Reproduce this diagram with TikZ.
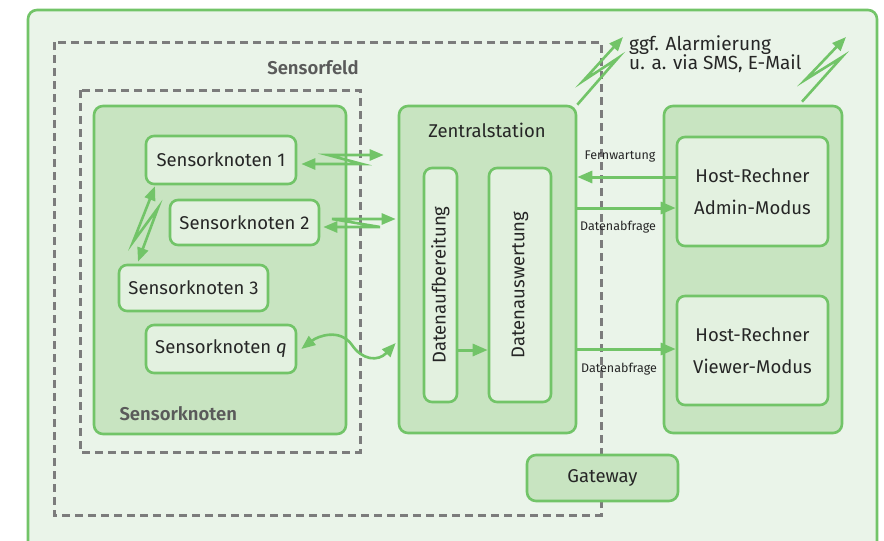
\documentclass[tikz,border=0pt]{standalone}
\usepackage{fontspec}
\setmainfont{Fira Sans}
\newfontfamily\firamed{Fira Sans SemiBold}
\usetikzlibrary{arrows.meta,calc}
\definecolor{gr}{HTML}{72C468}
\definecolor{outerfill}{HTML}{EAF4E9}
\definecolor{midfill}{HTML}{C8E4C1}
\definecolor{nodefill}{HTML}{E3F1E0}
\definecolor{dgray}{HTML}{7C7C7C}
\definecolor{txt}{HTML}{262626}
\definecolor{lgray}{HTML}{5A5A5A}
\begin{document}
\begin{tikzpicture}[x=1pt,y=-1pt,font=\fontsize{18.5}{20}\selectfont,text=txt,
  gline/.style={draw=gr,line width=2.6pt},
  frame/.style={gline,fill=outerfill,rounded corners=9pt},
  group/.style={gline,fill=midfill,rounded corners=9pt,inner sep=0pt},
  nodebox/.style={gline,fill=nodefill,rounded corners=8pt,inner sep=0pt},
  dbox/.style={draw=dgray,line width=3pt,dash pattern=on 8pt off 5pt},
  conn/.style={draw=gr,line width=3pt,-{Triangle[length=15pt,width=12pt]}},
  bolt/.style={draw=gr,line width=2.6pt,line join=miter,{Triangle[length=14pt,width=11pt]}-{Triangle[length=14pt,width=11pt]}},
  bolt1/.style={draw=gr,line width=2.6pt,line join=miter,-{Triangle[length=14pt,width=11pt]}},
  small/.style={font=\fontsize{12.5}{14}\selectfont},
  grplabel/.style={text=lgray,font=\fontsize{18.5}{20}\selectfont\firamed},
  two/.style={align=center,font=\fontsize{18.5}{32}\selectfont}]
\useasboundingbox (0,0) rectangle (884,541);
\fill[white] (0,0) rectangle (884,541);
% outer frame
\draw[frame] (28,10) rectangle (877,570);
% Sensorfeld dashed
\draw[dbox] (54,42) rectangle (601,515);
\node[grplabel] (lsf) at (313,68) {Sensorfeld};
% Sensorknoten group
\draw[dbox] (80,90) rectangle (360,452);
\node[group,minimum width=252pt,minimum height=328pt] (sg) at (220,270) {};
\node[grplabel,anchor=west] (lsk) at (116,414) {Sensorknoten};
\node[nodebox,minimum width=150pt,minimum height=48pt] (s1) at (221,160) {Sensorknoten 1};
\node[nodebox,minimum width=149pt,minimum height=45pt] (s2) at (244.5,222.5) {Sensorknoten 2};
\node[nodebox,minimum width=149pt,minimum height=46pt] (s3) at (193.5,288) {Sensorknoten 3};
\node[nodebox,minimum width=150pt,minimum height=48pt] (sq) at (221,349) {Sensorknoten \textit{q}};
% Zentralstation
\node[group,minimum width=177pt,minimum height=327pt] (zs) at (487.5,269.5) {};
\node (lzs) at (487,130) {Zentralstation};
\node[nodebox,minimum width=33pt,minimum height=234pt] (dab) at (440.5,285) {};
\node[rotate=90] at (dab.center) {Datenaufbereitung};
\node[nodebox,minimum width=62pt,minimum height=234pt] (daw) at (520,285) {};
\node[rotate=90] at (daw.center) {Datenauswertung};
\draw[conn] (dab.east |- 0,350) -- (daw.west |- 0,350);
% Host side
\node[group,minimum width=178pt,minimum height=327pt] (hg) at (753,269.5) {};
\node[nodebox,two,minimum width=151pt,minimum height=109pt] (ha) at (752.5,191.5) {Host-Rechner\\Admin-Modus};
\node[nodebox,two,minimum width=151pt,minimum height=109pt] (hv) at (752.5,350.5) {Host-Rechner\\Viewer-Modus};
% Gateway
\node[group,minimum width=151pt,minimum height=46pt] (gw) at (602.5,478) {Gateway};
% connectors right
\draw[conn] (ha.west |- 0,177) -- (zs.east |- 0,177);
\node[small] (lfw) at (620,157) {Fernwartung};
\draw[conn] (zs.east |- 0,208) -- (ha.west |- 0,208);
\node[small] (lda1) at (618,227) {Datenabfrage};
\draw[conn] (zs.east |- 0,349) -- (hv.west |- 0,349);
\node[small] (lda2) at (619,369) {Datenabfrage};
% radio links
\draw[bolt] ($(s1.east)+(4,4)$) -- (362,164) -- (328,155) -- ($(zs.west)+(-14,-114.5)$);
\draw[bolt] ($(s2.east)+(3,4.5)$) -- (380,227) -- (332,219) -- ($(zs.west)+(-2,-50.5)$);
\draw[bolt] ($(s1.south)+(-66,1)$) -- (133,242) -- (158,208) -- ($(s3.north)+(-55.5,-2)$);
\draw[draw=gr,line width=2.6pt,{Triangle[length=14pt,width=11pt]}-{Triangle[length=14pt,width=11pt]}]
  ($(sq.east)+(4,0)$) .. controls (318,336) and (340,328) .. (352,345)
  .. controls (362,360) and (378,362) .. ($(zs.west)+(-2,73.5)$);
% alarm links
\draw[bolt1] (zs.north east) -- (618,58) -- (583,81) -- (623,37);
\draw[bolt1] ($(hg.north)+(49,-3)$) -- (842,57) -- (805,80) -- (846,37);
\node[anchor=north west,align=left,font=\fontsize{19}{19.5}\selectfont,inner sep=0pt] (alarm) at (629,35) {ggf. Alarmierung\\u. a. via SMS, E-Mail};
\end{tikzpicture}
\end{document}
